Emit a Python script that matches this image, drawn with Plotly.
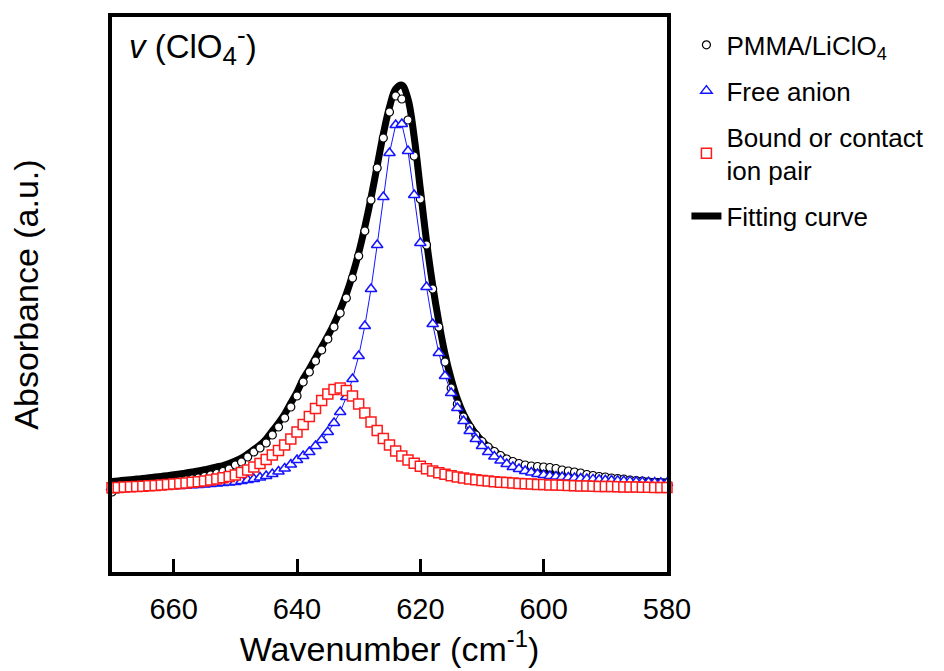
import plotly.graph_objects as go

# Wavenumber grid (cm-1): one point per cm-1 from 670 to 580
wavenumber = [670, 669, 668, 667, 666, 665, 664, 663, 662, 661,
              660, 659, 658, 657, 656, 655, 654, 653, 652, 651,
              650, 649, 648, 647, 646, 645, 644, 643, 642, 641,
              640, 639, 638, 637, 636, 635, 634, 633, 632, 631,
              630, 629, 628, 627, 626, 625, 624, 623, 622, 621,
              620, 619, 618, 617, 616, 615, 614, 613, 612, 611,
              610, 609, 608, 607, 606, 605, 604, 603, 602, 601,
              600, 599, 598, 597, 596, 595, 594, 593, 592, 591,
              590, 589, 588, 587, 586, 585, 584, 583, 582, 581,
              580]

# Absorbance (a.u.)
pmma_liclo4 = [-3, 0, 1, 2, 2.5, 3, 3.5, 4, 5, 6,
               7, 8, 9, 10, 11, 12.5, 14, 15.5, 17.5, 20,
               24, 27, 32, 37, 41, 46, 54, 62, 71, 82,
               93, 107, 117, 128, 139, 150, 162, 176, 191, 211,
               233, 258, 289, 321, 351, 377, 393, 390, 369, 333,
               290, 244, 200, 162, 127, 101, 85, 72, 62, 54,
               47.5, 42, 37.5, 33.5, 30, 27.5, 25.5, 24, 23, 22.5,
               22, 21.5, 20.5, 19, 18, 17, 16, 14.5, 13.5, 12.5,
               12, 11, 10.5, 10, 9, 8.5, 8, 7, 6.5, 6,
               6]

free_anion = [1.6, 1.7, 1.8, 1.9, 2.0, 2.1, 2.2, 2.3, 2.5, 2.7,
              2.9, 3.1, 3.4, 3.7, 4.0, 4.5, 5.0, 5.5, 6.0, 6.5,
              7, 8, 9, 10, 11.5, 13, 15, 17.5, 20.5, 24.5,
              29, 33, 37, 43, 49, 57, 66, 77, 92, 110,
              133, 163, 200, 244, 292, 336, 364, 365, 338, 294,
              246, 202, 165, 136, 113, 96, 81, 68, 58, 50,
              43, 37, 32.5, 28.5, 25, 22, 20, 18, 16.5, 15,
              14, 13, 12.5, 12, 11.5, 11, 10.5, 10, 9.6, 9.2,
              8.8, 8.5, 8.2, 7.9, 7.6, 7.3, 7, 6.7, 6.4, 6.2,
              6]

bound_ion_pair = [1.3, 1.6, 1.9, 2.2, 2.5, 2.8, 3.2, 3.6, 4.0, 4.5,
                  5.0, 5.5, 6.0, 6.7, 7.3, 8.0, 9.0, 10.0, 11.2, 12.5,
                  14, 16.5, 19, 22, 25.5, 29.5, 34, 38.5, 44, 50,
                  57, 64.5, 72.5, 80.5, 88.5, 95, 99.5, 101, 98.5, 93,
                  85, 76, 67, 58.5, 50.5, 44, 38, 33, 29, 25.7,
                  22.7, 20.2, 18, 16.2, 14.7, 13.3, 12.1, 11.0, 10.1, 9.3,
                  8.6, 7.9, 7.3, 6.8, 6.4, 6.0, 5.6, 5.2, 4.9, 4.6,
                  4.4, 4.1, 3.9, 3.7, 3.5, 3.3, 3.1, 2.9, 2.8, 2.6,
                  2.5, 2.4, 2.2, 2.1, 2.0, 1.9, 1.8, 1.7, 1.6, 1.5,
                  1.4]

fitting_curve = [7.5, 8.1, 8.7, 9.3, 9.9, 10.5, 11.2, 11.9, 12.6, 13.4,
                 14.2, 15, 16, 17, 18, 19.2, 20.5, 22, 23.5, 25.5,
                 28, 31, 35, 39.5, 44, 50, 58, 66, 75, 86,
                 97, 110, 120, 131, 142, 153, 165, 179, 195, 214,
                 236, 262, 291, 323, 355, 382, 400, 404, 390, 352,
                 300, 248, 204, 167, 135, 110, 90, 75, 64, 55,
                 48, 42, 37.5, 33.5, 30, 27, 24.5, 22, 20, 18.5,
                 17, 16, 15, 14.2, 13.5, 12.8, 12.2, 11.6, 11.1, 10.6,
                 10.1, 9.7, 9.3, 8.9, 8.6, 8.3, 8, 7.7, 7.5, 7.3,
                 7.1]

x_ticks = [660, 640, 620, 600, 580]

FONT = "Liberation Sans, Arial, sans-serif"
BLUE = "#1414ff"
RED = "#ff1a1a"

fig = go.Figure()

fig.add_trace(go.Scatter(
    x=wavenumber, y=fitting_curve, mode="lines", name="Fitting curve",
    line=dict(color="black", width=7, shape="spline"),
    legendgroup="g4", legendrank=4))

fig.add_trace(go.Scatter(
    x=wavenumber, y=pmma_liclo4, mode="markers", name="PMMA/LiClO<sub>4</sub>",
    marker=dict(symbol="circle", size=8, color="white",
                line=dict(color="black", width=1.2)),
    cliponaxis=False, legendgroup="g1", legendrank=1))

fig.add_trace(go.Scatter(
    x=wavenumber, y=free_anion, mode="lines", showlegend=False,
    line=dict(color=BLUE, width=1), hoverinfo="skip"))

fig.add_trace(go.Scatter(
    x=wavenumber, y=free_anion, mode="markers", name="Free anion",
    marker=dict(symbol="triangle-up", size=10, color="white",
                line=dict(color=BLUE, width=1.5)),
    cliponaxis=False, legendgroup="g2", legendrank=2))

fig.add_trace(go.Scatter(
    x=wavenumber, y=bound_ion_pair, mode="markers",
    name="Bound or contact<br>ion pair",
    marker=dict(symbol="square", size=10, color="white",
                line=dict(color=RED, width=1.5)),
    cliponaxis=False, legendgroup="g3", legendrank=3))

fig.update_layout(
    width=944, height=671,
    margin=dict(l=112, r=277, t=17, b=99),
    paper_bgcolor="white", plot_bgcolor="white",
    font=dict(family=FONT, color="black", size=26),
    showlegend=True,
    legend=dict(x=1.035, xanchor="left", y=0.992, yanchor="top",
                font=dict(size=26, family=FONT),
                tracegroupgap=9, traceorder="grouped",
                bgcolor="rgba(0,0,0,0)", itemclick=False),
    annotations=[dict(
        x=0.027, y=0.948, xref="paper", yref="paper",
        xanchor="left", yanchor="middle", showarrow=False,
        text="<i>v</i> (ClO<sub><span style='font-size:26px'>4</span></sub>"
             "<sup><span style='font-size:26px'>-</span></sup>)",
        font=dict(size=33, family=FONT))],
)

fig.update_xaxes(
    range=[670, 580], tickvals=x_ticks, ticktext=[str(v) for v in x_ticks],
    ticks="inside", ticklen=13, tickwidth=3, tickcolor="black",
    showline=True, linewidth=4, linecolor="black", mirror=True,
    showgrid=False, zeroline=False,
    tickfont=dict(size=29, family=FONT), ticklabelstandoff=8,
    title=dict(text="Wavenumber (cm<sup>-1</sup>)", font=dict(size=34, family=FONT),
               standoff=14),
    automargin=False)

fig.update_yaxes(
    range=[-83, 472], showticklabels=False, ticks="",
    showline=True, linewidth=4, linecolor="black", mirror=True,
    showgrid=False, zeroline=False,
    title=dict(text="Absorbance (a.u.)", font=dict(size=34, family=FONT),
               standoff=60),
    automargin=False)

fig.write_html("out.html", config={"displayModeBar": False},
               post_script="document.body.style.margin='0px';")
